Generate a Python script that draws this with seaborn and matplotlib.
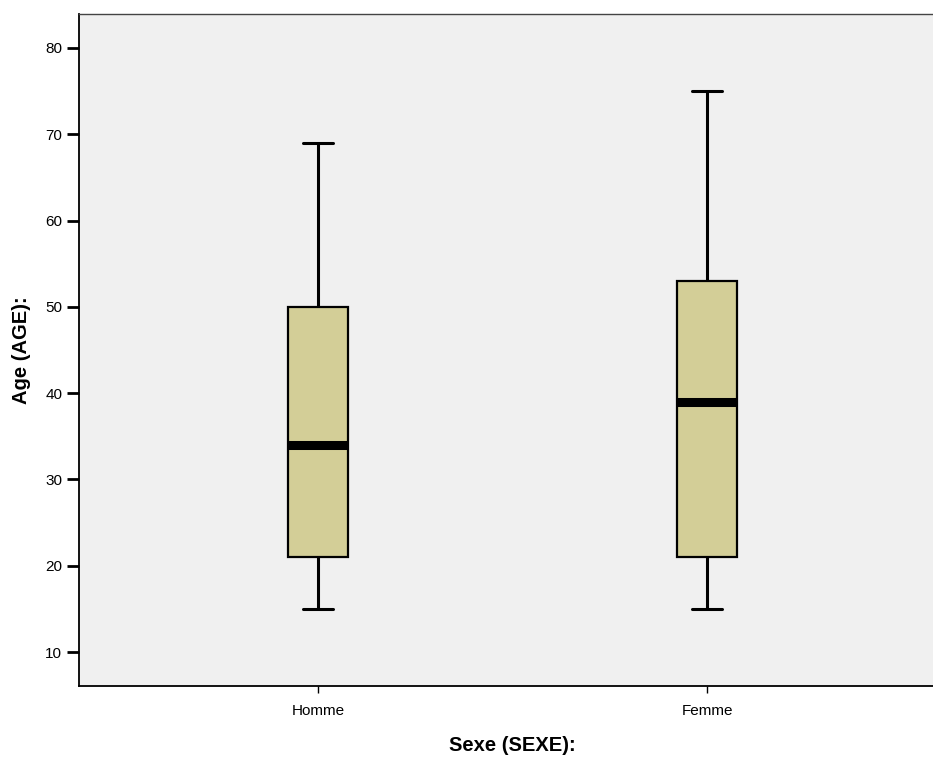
import matplotlib
matplotlib.use("Agg")
import matplotlib.pyplot as plt
import seaborn as sns
import pandas as pd

categories = ["Homme", "Femme"]
# five-number summaries: min whisker, Q1, median, Q3, max whisker
homme_values = [15, 21, 34, 50, 69]
femme_values = [15, 21, 39, 53, 75]
y_ticks = [10, 20, 30, 40, 50, 60, 70, 80]

df = pd.DataFrame({
    "Sexe (SEXE):": [categories[0]] * len(homme_values) + [categories[1]] * len(femme_values),
    "Age (AGE):": homme_values + femme_values,
})

sns.set_style("white")
plt.rcParams["font.family"] = ["Liberation Sans", "DejaVu Sans"]
plt.rcParams["text.color"] = "black"
plt.rcParams["axes.labelcolor"] = "black"
plt.rcParams["xtick.color"] = "black"
plt.rcParams["ytick.color"] = "black"

fig = plt.figure(figsize=(9.33, 7.6), dpi=100)
ax = fig.add_axes([79 / 933, 1 - 686 / 760, (946 - 79) / 933, (686 - 14) / 760])
ax.set_facecolor("#F0F0F0")

sns.boxplot(
    data=df, x="Sexe (SEXE):", y="Age (AGE):", order=categories,
    color="#D3CE97", saturation=1, width=0.152, whis=1.5,
    linecolor="black", linewidth=1.5, ax=ax,
    boxprops=dict(edgecolor="black", linewidth=1.6),
    whiskerprops=dict(color="black", linewidth=2.2),
    capprops=dict(color="black", linewidth=2.2),
    medianprops=dict(color="black", linewidth=6.5),
)

ax.set_xlim(-0.614, 1.614)
ax.set_ylim(6.06, 83.94)
ax.set_yticks(y_ticks)
ax.tick_params(axis="y", direction="out", length=9, width=2, labelsize=11, pad=3, left=True,
               colors="black")
ax.tick_params(axis="x", direction="out", length=5, width=1, labelsize=11, pad=8, bottom=True,
               colors="black")

for s in ["left", "bottom"]:
    ax.spines[s].set_color("black")
    ax.spines[s].set_linewidth(1.3)
ax.spines["top"].set_color("#444444")
ax.spines["top"].set_linewidth(1.0)
ax.spines["right"].set_visible(False)

ax.set_xlabel("Sexe (SEXE):", fontsize=14.5, fontweight="bold", labelpad=13, color="black")
ax.set_ylabel("Age (AGE):", fontsize=14.5, fontweight="bold", labelpad=10, color="black")

fig.savefig("out.png", dpi=100)
